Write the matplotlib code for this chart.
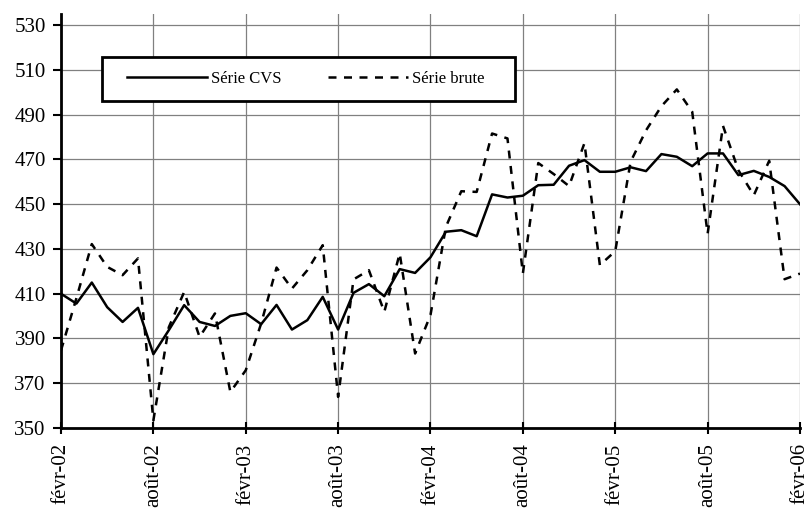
import matplotlib
matplotlib.use("Agg")
import matplotlib.pyplot as plt
from matplotlib.patches import Rectangle

# Monthly values, févr-02 .. févr-06 (49 months)
cvs = [410, 405.6, 415, 404, 397.4, 403.7, 383, 393.7, 404.9, 397.4, 395.6, 400.1,
       401.3, 396.4, 405, 394, 398.2, 408.6, 394, 410.4, 414.3, 408.9, 421, 419.3,
       426.3, 437.7, 438.4, 435.7, 454.4, 453, 453.8, 458.5, 458.7, 467.2, 469.7, 464.5,
       464.5, 466.5, 464.8, 472.4, 471.2, 467, 472.7, 472.7, 463, 464.9, 462.2, 458.1,
       450]
brute = [384.7, 408, 432.2, 422, 418.3, 425.8, 353.4, 395, 410.8, 390.7, 401.2, 366.1,
         375.8, 396.7, 421.7, 412.3, 420.5, 431.7, 363.9, 416.4, 420.5, 401.9, 428, 383.3,
         400.5, 439.9, 455.8, 455.5, 481.6, 479.4, 419.1, 468.4, 463.5, 458.1, 477.3, 422.8,
         429, 469, 483, 493.8, 501.3, 491.3, 436.8, 485, 465.2, 454, 469.4, 416.5,
         419]
tick_labels = ["févr-02", "août-02", "févr-03", "août-03", "févr-04",
               "août-04", "févr-05", "août-05", "févr-06"]
y_ticks = [350, 370, 390, 410, 430, 450, 470, 490, 510, 530]

plt.rcParams["font.family"] = ["Liberation Serif", "DejaVu Serif"]

fig = plt.figure(figsize=(8.07, 5.11), dpi=100)
ax = fig.add_axes([0.0756, 0.1624, 0.9157, 0.8102])

months = list(range(len(cvs)))
ax.plot(months, cvs, color="black", lw=1.8, label="Série CVS", zorder=3)
ax.plot(months, brute, color="black", lw=1.8, dashes=(3.2, 3.0),
        label="Série brute", zorder=3)

ax.set_xlim(0, len(cvs) - 1)
ax.set_ylim(350, 535)
ax.set_xticks(range(0, len(cvs), 6))
ax.set_xticklabels(tick_labels, rotation=90, fontsize=15)
ax.set_yticks(y_ticks)
ax.set_yticklabels([str(v) for v in y_ticks], fontsize=15)

ax.grid(True, color="#808080", lw=0.9)
ax.set_axisbelow(True)
for side in ["top", "right"]:
    ax.spines[side].set_visible(False)
for side in ["left", "bottom"]:
    ax.spines[side].set_linewidth(2)
ax.tick_params(axis="x", direction="inout", length=8, width=1.5, pad=7)
ax.tick_params(axis="y", direction="out", length=6, width=1.5, pad=5)

# legend box drawn by hand so the padding matches the original
box = Rectangle((0.1264, 0.8023), 0.5118, 0.0861, transform=fig.transFigure,
                facecolor="white", edgecolor="black", lw=2, zorder=1)
fig.patches.append(box)
handles, labels = ax.get_legend_handles_labels()
leg = fig.legend(handles, labels, loc="center left", ncol=2,
                 bbox_to_anchor=(127 / 807, 0.8454), fontsize=12,
                 handlelength=4.8, handletextpad=0.25, columnspacing=2.8,
                 borderpad=0, borderaxespad=0, frameon=False)
leg.set_zorder(2)

fig.savefig("out.png", dpi=100)
